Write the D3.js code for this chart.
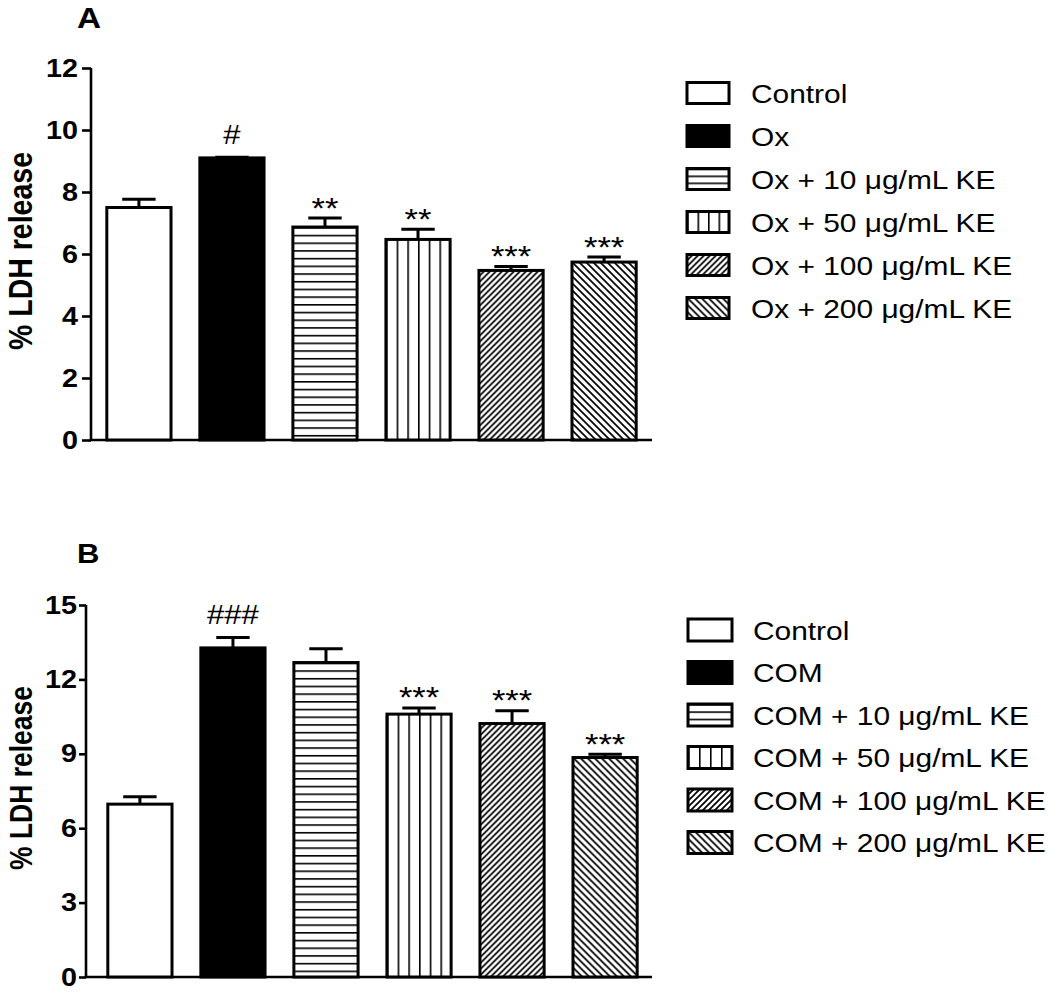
<!DOCTYPE html>
<html><head><meta charset="utf-8">
<script src="https://cdn.jsdelivr.net/npm/d3@7"></script>
<style>body{margin:0;background:#fff} svg{display:block}</style>
</head><body><svg id="c" width="1050" height="993"></svg>
<script>
// ---------- data ----------
const categoriesA = ["Control", "Ox", "Ox + 10 μg/mL KE", "Ox + 50 μg/mL KE", "Ox + 100 μg/mL KE", "Ox + 200 μg/mL KE"];
const meansA = [7.5, 9.1, 6.87, 6.47, 5.47, 5.74];
const errorsA = [0.27, 0.02, 0.29, 0.33, 0.13, 0.16];
const signifA = ["", "#", "**", "**", "***", "***"];
const ticksA = [0, 2, 4, 6, 8, 10, 12];

const categoriesB = ["Control", "COM", "COM + 10 μg/mL KE", "COM + 50 μg/mL KE", "COM + 100 μg/mL KE", "COM + 200 μg/mL KE"];
const meansB = [6.97, 13.27, 12.68, 10.6, 10.22, 8.85];
const errorsB = [0.3, 0.42, 0.56, 0.25, 0.52, 0.13];
const signifB = ["", "###", "", "***", "***", "***"];
const ticksB = [0, 3, 6, 9, 12, 15];

const fillTypes = ["white", "black", "hlines", "vlines", "diagUp", "diagDown"];

// ---------- setup ----------
const FONT = "'Liberation Sans', Arial, Helvetica, sans-serif";
const SX = 1.15; // horizontal text stretch seen in the reference
const svg = d3.select("#c");
svg.append("rect").attr("width", 1050).attr("height", 993).attr("fill", "#fff");
const defs = svg.append("defs");

function makeFill(id, type, x0, y0, w, h, legend) {
  if (type === "white") return "#fff";
  if (type === "black") return "#000";
  const p = defs.append("pattern").attr("id", id).attr("patternUnits", "userSpaceOnUse");
  if (type === "hlines") {
    const step = legend ? h / 3 : 7.7;
    p.attr("x", x0).attr("y", y0).attr("width", 20).attr("height", step);
    p.append("rect").attr("width", 20).attr("height", step).attr("fill", "#fff");
    p.append("line").attr("x1", 0).attr("x2", 20).attr("y1", 0).attr("y2", 0)
      .attr("stroke", "#000").attr("stroke-width", 3.2);
  } else if (type === "vlines") {
    const step = legend ? w / 4 : w / 6;
    p.attr("x", x0).attr("y", y0).attr("width", step).attr("height", 20);
    p.append("rect").attr("width", step).attr("height", 20).attr("fill", "#fff");
    p.append("line").attr("x1", 0).attr("x2", 0).attr("y1", 0).attr("y2", 20)
      .attr("stroke", "#000").attr("stroke-width", 3.2);
  } else {
    const s = type === "diagUp" ? 6 : 7;
    p.attr("x", x0).attr("y", y0).attr("width", s).attr("height", s);
    p.append("rect").attr("width", s).attr("height", s).attr("fill", "#fff");
    const d = type === "diagUp"
      ? `M0,${s} L${s},0 M-2,2 L2,-2 M${s-2},${s+2} L${s+2},${s-2}`
      : `M0,0 L${s},${s} M-2,${s-2} L2,${s+2} M${s-2},-2 L${s+2},2`;
    p.append("path").attr("d", d).attr("stroke", "#000").attr("stroke-width", 1.7).attr("fill", "none");
  }
  return `url(#${id})`;
}

function panel(cfg) {
  const g = svg.append("g");
  const y = d3.scaleLinear().domain([0, cfg.yMax]).range([cfg.yBottom, cfg.yTop]);
  const x = d3.scaleBand().domain(cfg.cats).range(cfg.bandRange).paddingInner(0.31).paddingOuter(0.17);
  const bw = x.bandwidth();

  // title
  g.append("text").text(cfg.title)
    .attr("transform", `translate(${cfg.titleX},${cfg.titleY}) scale(${SX},1)`)
    .attr("font-family", FONT).attr("font-weight", "bold").attr("font-size", cfg.titleSize);

  // y axis
  const ax = g.append("g").attr("transform", `translate(${cfg.axisX},0)`)
    .call(d3.axisLeft(y).tickValues(cfg.ticks).tickSize(cfg.tickSize).tickSizeOuter(0).tickPadding(cfg.tickPad));
  ax.select(".domain").attr("stroke-width", 2.6).attr("d", `M0,${cfg.yBottom}V${cfg.yTop}`);
  ax.selectAll(".tick line").attr("stroke-width", 2.6);
  ax.selectAll(".tick text")
    .attr("font-family", FONT).attr("font-weight", "bold").attr("font-size", 25).attr("fill", "#000")
    .attr("x", -(cfg.tickSize + cfg.tickPad) / SX).attr("transform", `scale(${SX},1)`);

  // x baseline
  g.append("line").attr("x1", cfg.axisX - 1.3).attr("x2", cfg.xEnd)
    .attr("y1", y(0)).attr("y2", y(0)).attr("stroke", "#000").attr("stroke-width", 2.6);

  // y label
  g.append("text").text("% LDH release")
    .attr("transform", `translate(32,${cfg.labelY}) rotate(-90) scale(1,${SX})`)
    .attr("text-anchor", "middle").attr("font-family", FONT).attr("font-weight", "bold")
    .attr("font-size", cfg.labelSize);

  const data = cfg.cats.map((c, i) => ({ c, i, v: cfg.means[i], e: cfg.errs[i], s: cfg.sig[i], t: fillTypes[i] }));

  // error bars (upper only)
  const eg = g.append("g").attr("stroke", "#000").attr("stroke-width", 3);
  data.forEach(d => {
    const cx = x(d.c) + bw / 2;
    eg.append("line").attr("x1", cx).attr("x2", cx).attr("y1", y(d.v)).attr("y2", y(d.v + d.e));
    eg.append("line").attr("x1", cx - bw * 0.26).attr("x2", cx + bw * 0.26)
      .attr("y1", y(d.v + d.e)).attr("y2", y(d.v + d.e));
  });

  // bars
  g.append("g").selectAll("rect").data(data).join("rect")
    .attr("x", d => x(d.c)).attr("y", d => y(d.v))
    .attr("width", bw).attr("height", d => y(0) - y(d.v))
    .attr("fill", d => makeFill(`p${cfg.title}${d.i}`, d.t, x(d.c), y(d.v), bw, y(0) - y(d.v), false))
    .attr("stroke", "#000").attr("stroke-width", 3);

  // significance labels
  data.filter(d => d.s).forEach(d => {
    const cx = x(d.c) + bw / 2;
    const top = y(d.v + d.e) - 1.5;
    const isHash = d.s[0] === "#";
    g.append("text").text(d.s)
      .attr("transform", `translate(${cx},${isHash ? top - 12 : top + 1}) scale(${SX},1)`)
      .attr("text-anchor", "middle").attr("font-family", FONT)
      .attr("font-size", isHash ? 27 : 30).attr("fill", "#000");
  });

  // legend
  const lg = g.append("g");
  cfg.cats.forEach((c, i) => {
    const cy = cfg.legY0 + i * cfg.legDy;
    const sx = cfg.legX, sy = cy - cfg.swH / 2;
    lg.append("rect").attr("x", sx).attr("y", sy).attr("width", cfg.swW).attr("height", cfg.swH)
      .attr("fill", makeFill(`l${cfg.title}${i}`, fillTypes[i], sx, sy, cfg.swW, cfg.swH, true))
      .attr("stroke", "#000").attr("stroke-width", 3);
    lg.append("text").text(c)
      .attr("transform", `translate(${cfg.legTextX},${cy + 9.5}) scale(${SX},1)`)
      .attr("font-family", FONT).attr("font-size", 26).attr("fill", "#000");
  });
}

panel({
  title: "A", titleX: 77, titleY: 28, titleSize: 29,
  cats: categoriesA, means: meansA, errs: errorsA, sig: signifA, ticks: ticksA,
  yMax: 12, yTop: 68, yBottom: 440, axisX: 91, xEnd: 652, bandRange: [91, 652],
  tickSize: 9, tickPad: 4, labelY: 251, labelSize: 28.5,
  legX: 687, legTextX: 751, legY0: 93, legDy: 43, swW: 42, swH: 21
});

panel({
  title: "B", titleX: 77, titleY: 563, titleSize: 27,
  cats: categoriesB, means: meansB, errs: errorsB, sig: signifB, ticks: ticksB,
  yMax: 15, yTop: 605, yBottom: 977, axisX: 86, xEnd: 652, bandRange: [92, 653],
  tickSize: 7, tickPad: 2, labelY: 778, labelSize: 26.5,
  legX: 688, legTextX: 753, legY0: 630, legDy: 42.5, swW: 44, swH: 22
});
</script>
</body></html>
